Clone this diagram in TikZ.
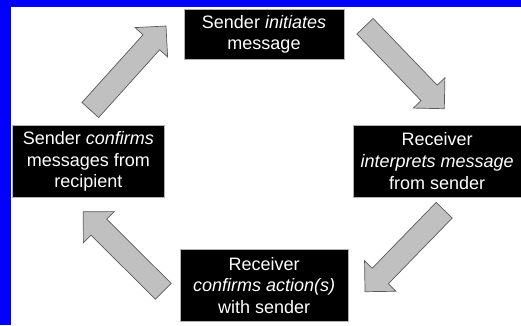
\documentclass[tikz,border=0pt]{standalone}
\usepackage{fontspec}
\setmainfont{Liberation Sans}
\usetikzlibrary{calc}
\definecolor{bgblue}{RGB}{0,0,255}
\definecolor{arrowfill}{RGB}{192,192,192}
\definecolor{arrowline}{RGB}{90,90,90}
\tikzset{
  box/.style={fill=black, draw=gray!60, line width=0.6pt, text=white, align=center,
    inner sep=0pt, font=\fontsize{18}{21.7}\selectfont},
  blockarrow/.style={fill=arrowfill, draw=arrowline, line width=0.7pt, line join=miter},
}
\newcommand\blockarr[3]{%
  \coordinate (#3) at ($(#2)!21.9pt!(#1)$);
  \draw[blockarrow] ($(#1)!11.2pt!90:(#2)$) -- ($(#3)!11.2pt!90:(#2)$)
    -- ($(#3)!21.9pt!90:(#2)$) -- (#2) -- ($(#3)!21.9pt!-90:(#2)$)
    -- ($(#3)!11.2pt!-90:(#2)$) -- ($(#1)!11.2pt!-90:(#2)$) -- cycle;
}
\begin{document}
\begin{tikzpicture}[x=1pt,y=-1pt]
\useasboundingbox (0,0) rectangle (521,325);
\fill[bgblue] (0,0) rectangle (521,325);
\fill[white] (11,7) rectangle (521,325);

\node[box, minimum width=160pt, minimum height=50pt] (init) at (264,34.2)
  {Sender \textit{initiates}\\message};
\node[box, minimum width=151.3pt, minimum height=72.7pt] (confs) at (88.4,161.4)
  {Sender \textit{confirms}\\messages from\\recipient};
\node[box, minimum width=168pt, minimum height=72.3pt] (interp) at (437.2,161.2)
  {Receiver\\\textit{interprets message}\\from sender};
\node[box, minimum width=168.3pt, minimum height=72.4pt] (confr) at (264.2,285.5)
  {Receiver\\\textit{confirms action(s)}\\with sender};

\coordinate (a1t) at (90.3,110);   \coordinate (a1h) at (166,26);
\coordinate (a2t) at (365,26.2);   \coordinate (a2h) at (444.3,108.7);
\coordinate (a3t) at (444.2,210.2); \coordinate (a3h) at (365,291.7);
\coordinate (a4t) at (163.3,291.3); \coordinate (a4h) at (83.3,211.7);

\blockarr{a1t}{a1h}{a1n}
\blockarr{a2t}{a2h}{a2n}
\blockarr{a3t}{a3h}{a3n}
\blockarr{a4t}{a4h}{a4n}
\end{tikzpicture}
\end{document}
